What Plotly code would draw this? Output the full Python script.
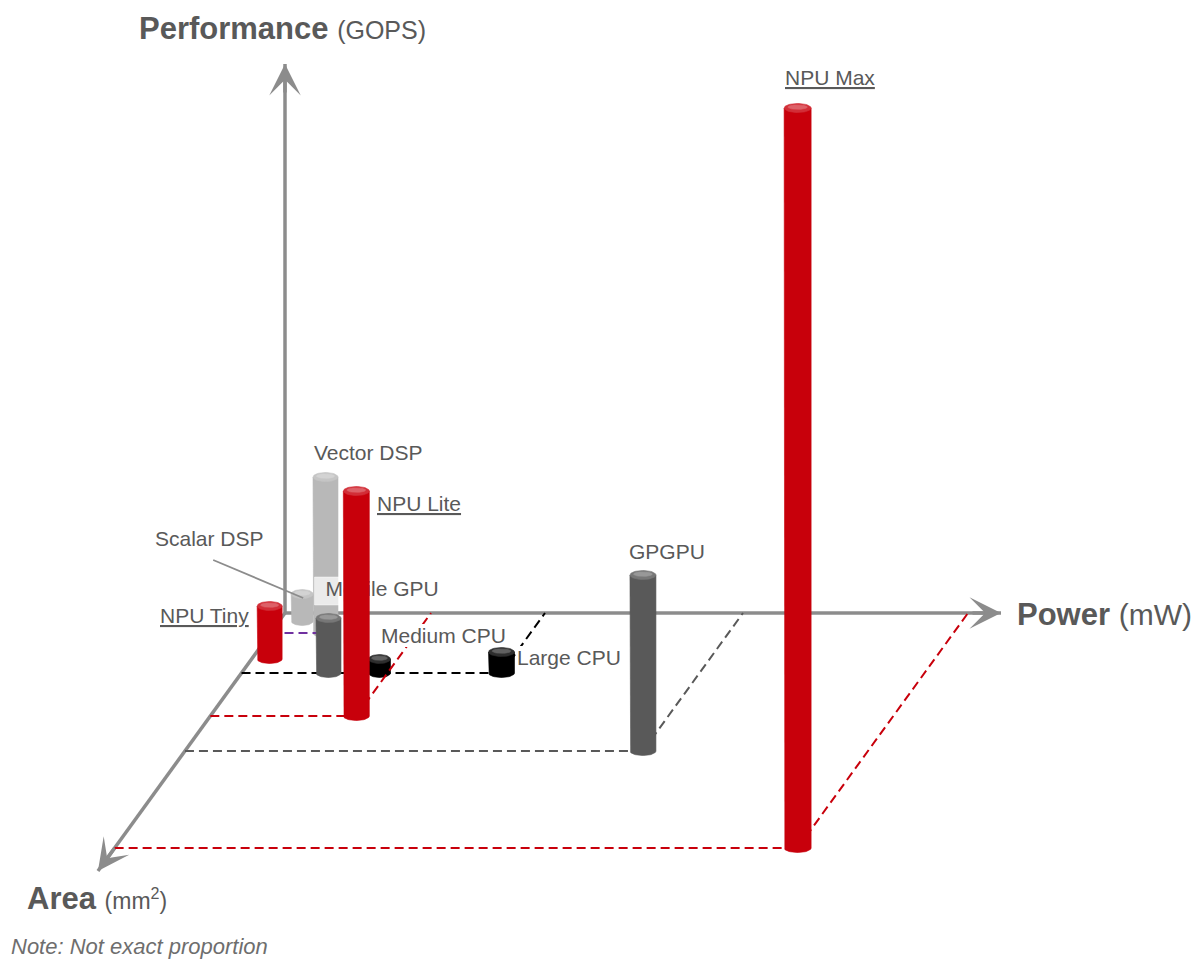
import numpy as np
import plotly.graph_objects as go

# ---------------- data (abstract units, "not exact proportion") ----------------
names = ["Vector DSP", "Scalar DSP", "NPU Tiny", "Mobile GPU", "Medium CPU",
         "NPU Lite", "Large CPU", "GPGPU", "NPU Max"]
power = [55, 23, 18, 87, 138, 146, 260, 458, 683]          # along Power (mW) axis
area = [20, 8, 46, 60, 60, 103, 60, 138, 235]              # along Area (mm2) axis
performance = [156, 27, 53, 55, 14, 225, 21, 176, 740]     # along Performance (GOPS) axis

axis_max = {"power": 716, "area": 258, "performance": 549}
note_text = "Note: Not exact proportion"

# ---------------- projection / styling ----------------
W, H = 1204, 959
ORIGIN = (285, 613)
K = 0.725  # oblique slope of the area axis


def proj(p, a, h=0.0):
    return ORIGIN[0] + p - K * a, ORIGIN[1] + a - h


RED = "#C8000B"
DARK = "#595959"
LIGHT = "#B8B8B8"
BLACK = "#000000"
PURPLE = "#7030A0"
AXIS_C = "#8C8C8C"
TEXT_C = "#595959"
FONT = "Liberation Sans, Arial, sans-serif"

style = {
    "Vector DSP": dict(color=LIGHT, w=25, guides="h", gcolor=PURPLE, lab=(43, -25, "center")),
    "Scalar DSP": dict(color=LIGHT, w=22, guides="", gcolor=None, lab=(-93, -56, "center")),
    "NPU Tiny": dict(color=RED, w=25, guides="", gcolor=None, lab=(-20, 9, "right"), u=True),
    "Mobile GPU": dict(color=DARK, w=25, guides="", gcolor=None, lab=(-3, -27, "trace")),
    "Medium CPU": dict(color=BLACK, w=22, guides="", gcolor=None, lab=(1, -24, "left"), bg=0.01),
    "NPU Lite": dict(color=RED, w=26, guides="hd", gcolor=RED, lab=(20, 12, "left"), u=True, late=True),
    "Large CPU": dict(color=BLACK, w=26, guides="hd", gcolor=BLACK, lab=(15, 5, "left"), bg=0.01),
    "GPGPU": dict(color=DARK, w=26, guides="hd", gcolor=DARK, lab=(24, -24, "center")),
    "NPU Max": dict(color=RED, w=27, guides="hd", gcolor=RED, lab=(32, -31, "center"), u=True),
}
RY = 4.5


def lighten(hexc, f):
    hexc = hexc.lstrip("#")
    r, g, b = [int(hexc[i:i + 2], 16) for i in (0, 2, 4)]
    r, g, b = [int(round(c + (255 - c) * f)) for c in (r, g, b)]
    return "#%02X%02X%02X" % (r, g, b)


fig = go.Figure()


def poly(xs, ys, color):
    fig.add_trace(go.Scatter(x=list(xs), y=list(ys), mode="lines", fill="toself",
                             fillcolor=color, line=dict(width=0.6, color=color),
                             hoverinfo="skip", showlegend=False))


def line(xs, ys, color, width=2.0, dash=None):
    fig.add_trace(go.Scatter(x=list(xs), y=list(ys), mode="lines",
                             line=dict(width=width, color=color, dash=dash),
                             hoverinfo="skip", showlegend=False))


def ellipse(cx, cy, rx, ry, color):
    t = np.linspace(0, 2 * np.pi, 48)
    poly(cx + rx * np.cos(t), cy + ry * np.sin(t), color)


def cylinder(i):
    st = style[names[i]]
    cx, bottom = proj(power[i], area[i])
    _, top = proj(power[i], area[i], performance[i])
    w = st["w"]
    t = np.linspace(np.pi, 0, 30)
    xs = [cx - w / 2] + list(cx + w / 2 * np.cos(t)) + [cx + w / 2]
    ys = [top] + list(bottom + RY * np.sin(t)) + [top]
    poly(xs, ys, st["color"])
    ellipse(cx, top, w / 2, RY, lighten(st["color"], 0.18))
    ellipse(cx, top - RY * 0.2, w / 2 * 0.72, RY * 0.5, lighten(st["color"], 0.38))


def guides(i):
    st = style[names[i]]
    bx, by = proj(power[i], area[i])
    if "h" in st["guides"]:
        ax_, ay_ = proj(0, area[i])
        line([ax_, bx], [ay_, by], st["gcolor"], 2.0, "9px,5px")
    if "d" in st["guides"]:
        px, py = proj(power[i], 0)
        line([bx, px], [by, py], st["gcolor"], 2.0, "9px,5px")


# ---------------- axes ----------------
o = proj(0, 0)
perf_tip = proj(0, 0, axis_max["performance"])
pow_tip = proj(axis_max["power"], 0)
area_tip = proj(0, axis_max["area"])
for tip in (perf_tip, pow_tip, area_tip):
    line([o[0], tip[0]], [o[1], tip[1]], AXIS_C, 3.5)

idx = {n: i for i, n in enumerate(names)}

# draw order (back to front)
order = ["Vector DSP", "Scalar DSP", "NPU Tiny", "Mobile GPU", "Medium CPU",
         "NPU Lite", "Large CPU", "GPGPU", "NPU Max"]

cylinder(idx["Vector DSP"])
for n in names:
    if style[n]["guides"] and not style[n].get("late"):
        guides(idx[n])

# Mobile GPU label (as trace so that NPU Lite can cover it)
mi = idx["Mobile GPU"]
mx, mtop = proj(power[mi], area[mi], performance[mi])
lx, ly = mx + style["Mobile GPU"]["lab"][0], mtop + style["Mobile GPU"]["lab"][1]
poly([lx - 11, lx + 130, lx + 130, lx - 11, lx - 11],
     [ly - 14, ly - 14, ly + 14, ly + 14, ly - 14], "rgba(255,255,255,0.72)")
fig.add_trace(go.Scatter(x=[lx], y=[ly], mode="text", text=["Mobile GPU"],
                         textposition="middle right",
                         textfont=dict(family=FONT, size=21, color=TEXT_C),
                         hoverinfo="skip", showlegend=False))

for n in order[1:]:
    i = idx[n]
    if style[n].get("late"):
        guides(i)
    cylinder(i)
    if n == "Scalar DSP":
        sx, stop = proj(power[i], area[i], performance[i])
        dx, dy, _ = style[n]["lab"]
        line([sx + dx + 4, sx + 1], [stop + dy + 22, stop + 4], "#8C8C8C", 1.8)

# ---------------- annotations ----------------
ann = []
for n in names:
    st = style[n]
    if st["lab"][2] == "trace":
        continue
    i = idx[n]
    x, y = proj(power[i], area[i], performance[i])
    dx, dy, anchor = st["lab"]
    font = dict(family=FONT, size=21, color=TEXT_C)
    if st.get("u"):
        font["lineposition"] = "under"
    ann.append(dict(x=x + dx, y=y + dy, xref="x", yref="y", text=n, showarrow=False,
                    xanchor=anchor, yanchor="middle", font=font,
                    bgcolor="white" if st.get("bg") else None,
                    borderpad=st.get("bg", 1), borderwidth=0))

# arrowheads
for tip in (perf_tip, pow_tip, area_tip):
    vx, vy = tip[0] - o[0], tip[1] - o[1]
    L = (vx ** 2 + vy ** 2) ** 0.5
    tail = (tip[0] - vx / L * 30, tip[1] - vy / L * 30)
    ann.append(dict(x=tip[0], y=tip[1], ax=tail[0], ay=tail[1], xref="x", yref="y",
                    axref="x", ayref="y", text="", showarrow=True, arrowhead=3,
                    arrowsize=1.5, arrowwidth=3.5, arrowcolor=AXIS_C, standoff=0))

# axis titles
ann.append(dict(x=perf_tip[0] - 148, y=perf_tip[1] - 36, xref="x", yref="y", xanchor="left",
                yanchor="middle", showarrow=False,
                text="<b>Performance</b> <span style='font-size:25px'>(GOPS)</span>",
                font=dict(family=FONT, size=31, color=TEXT_C)))
ann.append(dict(x=pow_tip[0] + 14, y=pow_tip[1] + 1, xref="x", yref="y", xanchor="left",
                yanchor="middle", showarrow=False,
                text="<b>Power</b> <span style='font-size:30px'>(mW)</span>",
                font=dict(family=FONT, size=31, color=TEXT_C)))
ann.append(dict(x=area_tip[0] - 73, y=area_tip[1] + 27, xref="x", yref="y", xanchor="left",
                yanchor="middle", showarrow=False,
                text="<b>Area</b> <span style='font-size:23px'>(mm<sup>2</sup>)</span>",
                font=dict(family=FONT, size=31, color=TEXT_C)))
ann.append(dict(x=9, y=946, xref="x", yref="y", xanchor="left", yanchor="middle",
                showarrow=False, text="<i>" + note_text + "</i>",
                font=dict(family=FONT, size=22, color="#6E6E6E")))

fig.update_layout(
    width=W, height=H, margin=dict(l=0, r=0, t=0, b=0),
    paper_bgcolor="white", plot_bgcolor="white", showlegend=False,
    xaxis=dict(range=[0, W], visible=False, fixedrange=True),
    yaxis=dict(range=[H, 0], visible=False, fixedrange=True),
    annotations=ann, font=dict(family=FONT),
)
fig.write_html("out.html", config={"displayModeBar": False})
